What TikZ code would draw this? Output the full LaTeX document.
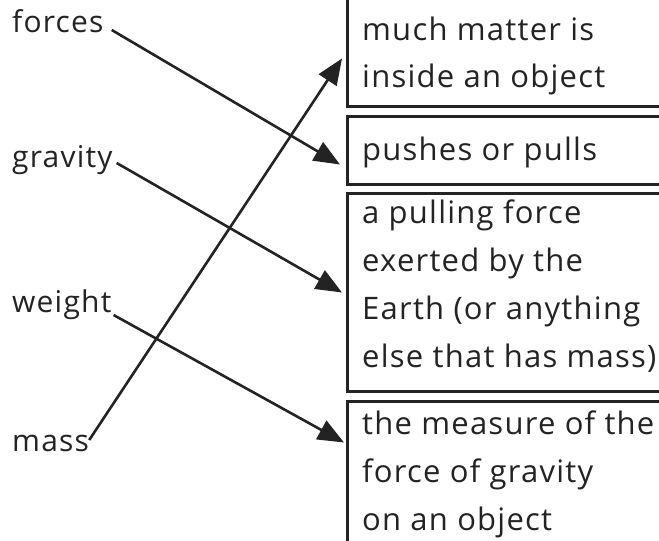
\documentclass[tikz,border=0pt]{standalone}
\usepackage{fontspec}
\setmainfont{Open Sans}
\newfontfamily\spacedfont{Open Sans}[LetterSpace=4]
\usetikzlibrary{arrows.meta}
\definecolor{inkgrey}{HTML}{232323}
\tikzset{
	word/.style={anchor=base west, inner sep=0pt, text=inkgrey, font=\spacedfont\fontsize{30}{48}\selectfont},
	line/.style={word, font=\spacedfont\fontsize{31}{48}\selectfont},
	defbox/.style={draw=inkgrey, line width=3pt, anchor=north west, minimum width=360pt, inner sep=0pt},
	match/.style={line width=2.6pt, draw=inkgrey, -{Triangle[length=26pt,width=21pt]}}
}
\begin{document}
\begin{tikzpicture}[x=1pt, y=-1pt]
	\useasboundingbox (0,0) rectangle (659,541);
	\clip (0,0) rectangle (659,541);
	% words on the left
	\node[word] (forces) at (12, 32) {forces};
	\node[word] (gravity) at (12, 167) {gravity};
	\node[word] (weight) at (12, 312) {weight};
	\node[word] (mass) at (12, 451) {mass};
	% boxes, cut off at the edges
	\node[defbox, minimum height=165pt] (matterbox) at (346, -60) {};
	\node[defbox, minimum height=68pt] (pushbox) at (346, 115) {};
	\node[defbox, minimum height=198pt] (pullbox) at (346, 192) {};
	\node[defbox, minimum height=180pt] (measurebox) at (346, 400) {};
	%top box
	\node[line] (much) at (362, 40) {much matter is};
	\node[line] (inside) at (362, 87) {inside an object};
	%second box
	\node[line] (pushes) at (362, 160) {pushes or pulls};
	%third box
	\node[line] (apull) at (362, 223) {a pulling force};
	\node[line] (exerted) at (362, 271) {exerted by the};
	\node[line] (earth) at (362, 319) {Earth (or anything};
	\node[line] (else) at (362, 367) {else that has mass)};
	%bottom box
	\node[line] (measure) at (362, 434) {the measure of the};
	\node[line] (forceof) at (362, 482) {force of gravity};
	\node[line] (onan) at (362, 530) {on an object};
	% arrow ends at the boxes
	\coordinate (matterin) at ([xshift=-4pt, yshift=-34.5pt]matterbox.west);
	\coordinate (pushin) at ([xshift=-6pt, yshift=-14pt]pushbox.west);
	\coordinate (pullin) at ([xshift=-4pt]pullbox.west);
	\coordinate (measurein) at ([xshift=-2pt, yshift=49pt]measurebox.west);
	\draw[match] ([xshift=8pt, yshift=2pt]forces.base east) -- (pushin);
	\draw[match] ([xshift=4pt, yshift=4pt]gravity.base east) -- (pullin);
	\draw[match] ([xshift=2pt, yshift=-3pt]weight.base east) -- (measurein);
	\draw[match] ([xshift=0pt, yshift=11pt]mass.base east) -- (matterin);
\end{tikzpicture}
\end{document}
